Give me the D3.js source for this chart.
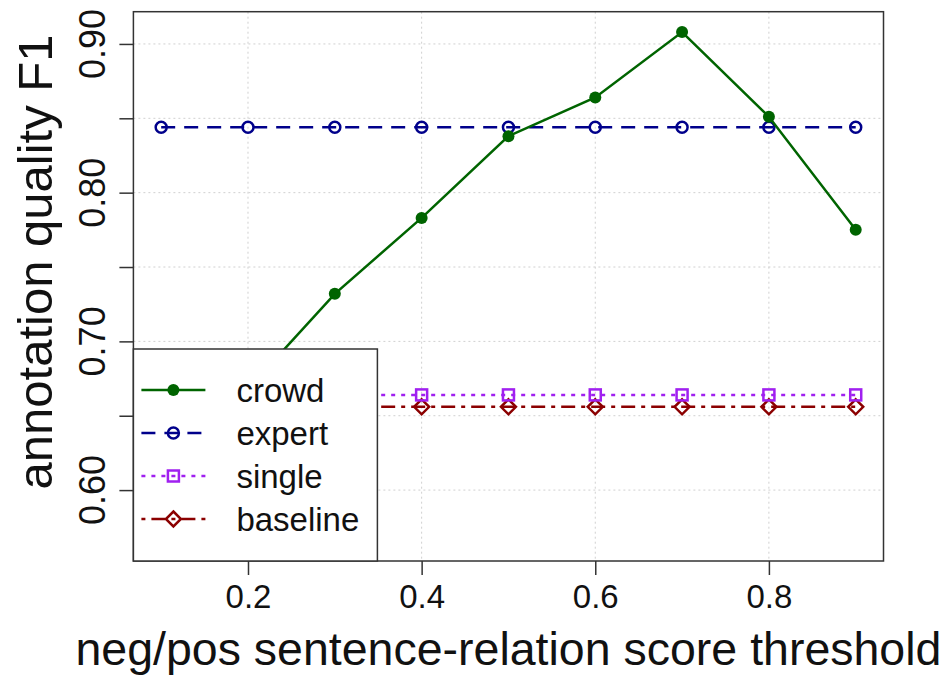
<!DOCTYPE html>
<html>
<head>
<meta charset="utf-8">
<script src="https://cdn.jsdelivr.net/npm/d3@7"></script>
<style>
  body { margin: 0; background: #fff; }
  text { font-family: "Liberation Sans", Arial, sans-serif; fill: #111; }
</style>
</head>
<body>
<svg></svg>
<script>
const svg = d3.select("svg");

const sizes = {
  svg: { width: 943, height: 676 },
  plot: { left: 133.4, right: 883.5, top: 11.7, bottom: 561 },
  legend: { width: 244, height: 212, rowGap: 43 }
};

svg.attr("width", sizes.svg.width).attr("height", sizes.svg.height);

// data
const thresholds = [0.1, 0.2, 0.3, 0.4, 0.5, 0.6, 0.7, 0.8, 0.9];
const crowd = [0.566, 0.668, 0.732, 0.783, 0.838, 0.864, 0.908, 0.851, 0.775];
const expert = [0.844, 0.844, 0.844, 0.844, 0.844, 0.844, 0.844, 0.844, 0.844];
const single = [0.664, 0.664, 0.664, 0.664, 0.664, 0.664, 0.664, 0.664, 0.664];
const baseline = [0.656, 0.656, 0.656, 0.656, 0.656, 0.656, 0.656, 0.656, 0.656];

const seriesNames = ["crowd", "expert", "single", "baseline"];
const xTicks = [0.2, 0.4, 0.6, 0.8];
const yTicks = [0.6, 0.65, 0.7, 0.75, 0.8, 0.85, 0.9];
const yLabelTicks = [0.6, 0.7, 0.8, 0.9];

const styles = {
  crowd: { color: "#006400", dash: null, shape: "dot" },
  expert: { color: "#00008b", dash: "14,9", shape: "circle" },
  single: { color: "#a020f0", dash: "4,6", shape: "square" },
  baseline: { color: "#8b0000", dash: "4,6,14,6", shape: "diamond" }
};

const series = [crowd, expert, single, baseline].map((values, k) => ({
  name: seriesNames[k],
  points: values.map((v, i) => ({ x: thresholds[i], y: v }))
}));

// R style 4% padding on both axes
function padded(extent) {
  const pad = (extent[1] - extent[0]) * 0.04;
  return [extent[0] - pad, extent[1] + pad];
}

const allY = crowd.concat(expert, single, baseline);

const x = d3.scaleLinear()
  .domain(padded(d3.extent(thresholds)))
  .range([sizes.plot.left, sizes.plot.right]);

const y = d3.scaleLinear()
  .domain(padded(d3.extent(allY)))
  .range([sizes.plot.bottom, sizes.plot.top]);

// grid
const grid = svg.append("g")
  .attr("stroke", "#d0d0d0")
  .attr("stroke-width", 1)
  .attr("stroke-dasharray", "2,3");

grid.selectAll(".gx").data(xTicks).enter().append("line")
  .attr("x1", d => x(d)).attr("x2", d => x(d))
  .attr("y1", sizes.plot.top).attr("y2", sizes.plot.bottom);

grid.selectAll(".gy").data(yTicks).enter().append("line")
  .attr("y1", d => y(d)).attr("y2", d => y(d))
  .attr("x1", sizes.plot.left).attr("x2", sizes.plot.right);

// lines
const lineCreator = d3.line().x(d => x(d.x)).y(d => y(d.y));

function drawMarker(sel, shape, color) {
  if (shape === "dot") {
    sel.append("circle").attr("r", 6).attr("fill", color);
  } else if (shape === "circle") {
    sel.append("circle").attr("r", 5.5).attr("fill", "none")
      .attr("stroke", color).attr("stroke-width", 2.5);
  } else if (shape === "square") {
    sel.append("rect").attr("x", -5.5).attr("y", -5.5).attr("width", 11).attr("height", 11)
      .attr("fill", "none").attr("stroke", color).attr("stroke-width", 2.5);
  } else {
    sel.append("path").attr("d", "M0,-7.5L7.5,0L0,7.5L-7.5,0Z")
      .attr("fill", "none").attr("stroke", color).attr("stroke-width", 2.5);
  }
}

const plotArea = svg.append("g");

series.slice().reverse().forEach(s => {
  const st = styles[s.name];
  plotArea.append("path")
    .attr("d", lineCreator(s.points))
    .attr("fill", "none")
    .attr("stroke", st.color)
    .attr("stroke-width", 2.5)
    .attr("stroke-dasharray", st.dash);

  plotArea.selectAll(null).data(s.points).enter().append("g")
    .attr("transform", d => `translate(${x(d.x)},${y(d.y)})`)
    .each(function () { drawMarker(d3.select(this), st.shape, st.color); });
});

// axes
const xAxis = svg.append("g")
  .attr("transform", `translate(0,${sizes.plot.bottom})`)
  .call(d3.axisBottom(x).tickValues(xTicks).tickSize(14).tickPadding(10).tickFormat(d3.format(".1f")));

xAxis.select(".domain").remove();
xAxis.selectAll("line").attr("stroke", "#333").attr("stroke-width", 1.5);
xAxis.selectAll("text").attr("font-size", 33).attr("fill", "#111");

const yAxis = svg.append("g")
  .attr("transform", `translate(${sizes.plot.left},0)`)
  .call(d3.axisLeft(y).tickValues(yTicks).tickSize(14).tickFormat(""));

yAxis.select(".domain").remove();
yAxis.selectAll("line").attr("stroke", "#333").attr("stroke-width", 1.5);

svg.append("g").selectAll("text").data(yLabelTicks).enter().append("text")
  .attr("transform", d => `translate(105,${y(d)}) rotate(-90)`)
  .attr("text-anchor", "middle")
  .attr("font-size", 36)
  .text(d3.format(".2f"));

// box
svg.append("rect")
  .attr("x", sizes.plot.left).attr("y", sizes.plot.top)
  .attr("width", sizes.plot.right - sizes.plot.left)
  .attr("height", sizes.plot.bottom - sizes.plot.top)
  .attr("fill", "none").attr("stroke", "#333").attr("stroke-width", 1.5);

// legend
const legend = svg.append("g")
  .attr("transform", `translate(${sizes.plot.left},${sizes.plot.bottom - sizes.legend.height})`);

legend.append("rect")
  .attr("width", sizes.legend.width).attr("height", sizes.legend.height)
  .attr("fill", "#fff").attr("stroke", "#333").attr("stroke-width", 1.5);

const rows = legend.selectAll(".row").data(seriesNames).enter().append("g")
  .attr("transform", (d, i) => `translate(0,${41 + i * sizes.legend.rowGap})`);

rows.append("line")
  .attr("x1", 8).attr("x2", 72)
  .attr("stroke", d => styles[d].color)
  .attr("stroke-width", 2.5)
  .attr("stroke-dasharray", d => styles[d].dash);

rows.append("g")
  .attr("transform", "translate(40,0)")
  .each(function (d) { drawMarker(d3.select(this), styles[d].shape, styles[d].color); });

rows.append("text")
  .attr("x", 103).attr("dy", "0.35em")
  .attr("font-size", 33)
  .text(d => d);

// axis titles
svg.append("text")
  .attr("x", (sizes.plot.left + sizes.plot.right) / 2)
  .attr("y", 665)
  .attr("text-anchor", "middle")
  .attr("font-size", 46.5)
  .text("neg/pos sentence-relation score threshold");

svg.append("text")
  .attr("transform", "translate(52,262) rotate(-90)")
  .attr("text-anchor", "middle")
  .attr("font-size", 49)
  .text("annotation quality F1");
</script>
</body>
</html>
